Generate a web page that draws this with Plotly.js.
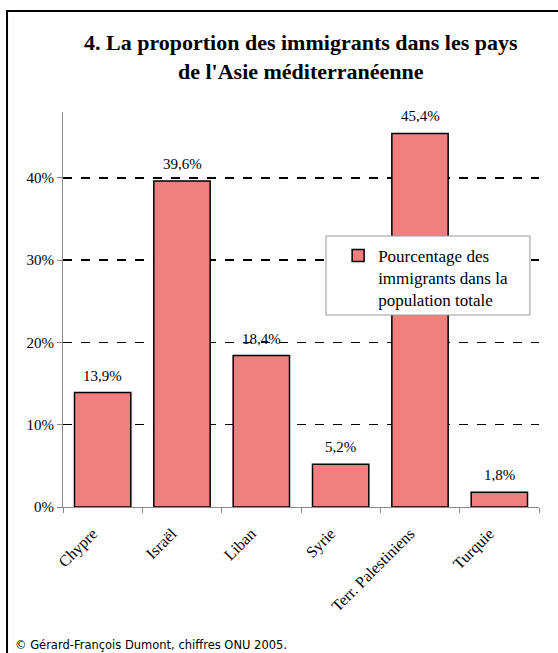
<!DOCTYPE html>
<html>
<head>
<meta charset="utf-8">
<script src="https://cdn.plot.ly/plotly-3.0.1.min.js"></script>
<style>html,body{margin:0;padding:0;background:#fff;}</style>
</head>
<body>
<div id="chart" style="width:558px;height:653px;"></div>
<script>
const categories = ["Chypre", "Israël", "Liban", "Syrie", "Terr. Palestiniens", "Turquie"];
const proportions = [0.139, 0.396, 0.184, 0.052, 0.454, 0.018];
const yTickValues = [0, 0.1, 0.2, 0.3, 0.4];
const seriesName = "Pourcentage des<br>immigrants dans la<br>population totale";
const titleText = "<b>4. La proportion des immigrants dans les pays<br>de l'Asie méditerranéenne</b>";
const sourceText = "© Gérard-François Dumont, chiffres ONU 2005.";

const serif = "Liberation Serif";

const trace = {
  type: "bar",
  x: categories,
  y: proportions,
  name: seriesName,
  marker: { color: "#F08080", line: { color: "#000000", width: 1.5 } },
  showlegend: true,
  hoverinfo: "skip"
};

const valueLabels = categories.map((c, i) => ({
  x: c, y: proportions[i], xref: "x", yref: "y",
  text: (proportions[i] * 100).toFixed(1).replace(".", ",") + "%",
  showarrow: false, yanchor: "bottom", yshift: 7,
  font: { family: serif, size: 15, color: "#000" }
}));

const layout = {
  width: 558,
  height: 653,
  separators: ", ",
  font: { family: serif, size: 15, color: "#000" },
  margin: { l: 63, r: 19, t: 112, b: 146 },
  paper_bgcolor: "#ffffff",
  plot_bgcolor: "#ffffff",
  bargap: 0.29,
  xaxis: {
    type: "category",
    tickangle: -45,
    tickfont: { family: serif, size: 16, color: "#000" },
    ticks: "outside",
    tickson: "boundaries",
    ticklen: 5,
    tickcolor: "#888",
    ticklabelstandoff: 10,
    ticklabelshift: -10,
    showline: true,
    linecolor: "#888",
    linewidth: 1,
    showgrid: false,
    zeroline: false
  },
  yaxis: {
    range: [0, 0.48],
    tickvals: yTickValues,
    tickformat: ".0%",
    tickfont: { family: serif, size: 15, color: "#000" },
    ticks: "outside",
    ticklen: 5,
    tickcolor: "#888",
    showline: true,
    linecolor: "#888",
    linewidth: 1,
    showgrid: true,
    gridcolor: "#000",
    gridwidth: 1.5,
    griddash: "dash",
    zeroline: false
  },
  legend: {
    x: 0.578, y: 0.681, xanchor: "left", yanchor: "top",
    bgcolor: "rgba(0,0,0,0)",
    borderwidth: 0,
    valign: "top",
    font: { family: serif, size: 17, color: "#000" },
    itemwidth: 30
  },
  shapes: [
    {
      type: "rect", xref: "paper", yref: "paper",
      x0: -0.1176, x1: 1.2, y0: -0.5, y1: 1.2557,
      line: { color: "#000", width: 2 }, fillcolor: "rgba(0,0,0,0)", layer: "below"
    },
    {
      type: "rect", xref: "paper", yref: "paper",
      x0: 0.5525, x1: 0.981, y0: 0.486, y1: 0.686,
      line: { color: "#999", width: 1 }, fillcolor: "#ffffff", layer: "above"
    }
  ],
  annotations: [
    {
      text: titleText, xref: "paper", yref: "paper",
      x: 0.5, y: 1.139, xanchor: "center", yanchor: "middle",
      showarrow: false, align: "center",
      font: { family: serif, size: 22, color: "#000" }
    },
    {
      text: sourceText, xref: "paper", yref: "paper",
      x: -0.105, y: -0.35, xanchor: "left", yanchor: "middle",
      showarrow: false,
      font: { family: "DejaVu Sans", size: 11.5, color: "#000" }
    }
  ].concat(valueLabels)
};

Plotly.newPlot("chart", [trace], layout, { displayModeBar: false, staticPlot: true });
</script>
</body>
</html>
